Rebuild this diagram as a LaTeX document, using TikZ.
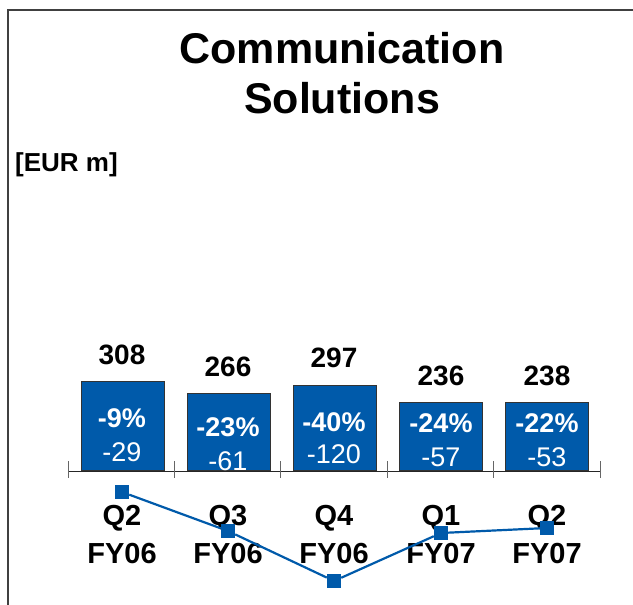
\documentclass[tikz,border=0pt]{standalone}
\usepackage{fontspec}
\setmainfont{Liberation Sans}
\definecolor{barblue}{RGB}{0,90,170}
\newcommand{\titlefont}[0]{\fontsize{43}{50}\selectfont\bfseries}
\newcommand{\bigfont}[0]{\fontsize{28}{33}\selectfont\bfseries}
\newcommand{\inbarfont}[0]{\fontsize{27}{32}\selectfont}
\newcommand{\catfont}[0]{\fontsize{29}{38}\selectfont\bfseries}
\tikzset{
bar/.style={
  draw=black!80,
  fill=barblue,
  line width=0.8pt,
  minimum width=83pt,
  inner sep=0pt,
  anchor=south
  }
}
\tikzset{
pct/.style={
  text=white,
  font=\inbarfont\bfseries,
  inner sep=0pt
  }
}
\tikzset{
delta/.style={
  text=white,
  font=\inbarfont,
  inner sep=0pt
  }
}
\tikzset{
cat/.style={
  align=center,
  font=\catfont,
  inner sep=0pt
  }
}
\tikzset{
marker/.style={
  fill=barblue,
  minimum size=14pt,
  inner sep=0pt
  }
}
\tikzstyle{trend} = [draw=barblue,line width=2.2pt]
\tikzstyle{tick} = [draw=black!60,line width=0.9pt]
\tikzset{%
    boundingBox/.style={use as bounding box},
    }
\begin{document}
\begin{tikzpicture}[x=1pt, y=-1pt]
        \path[boundingBox] (0,0) rectangle (633,605);
        %frame
        \draw[black!75, line width=1.6pt] (8,605) -- (8,10) -- (633,10);

        %title
        \node (title) at (342,73) [align=center, font=\titlefont, inner sep=0pt] {Communication\\Solutions};
        \node (unit) at (15,165) [anchor=west, font=\fontsize{26}{31}\selectfont\bfseries, inner sep=0pt] {[EUR m]};

        %bars
        \node (b1) at (122.5,471) [bar, minimum height=89pt] {};
        \node (b2) at (228.5,471) [bar, minimum height=77pt] {};
        \node (b3) at (334.5,471) [bar, minimum height=85pt] {};
        \node (b4) at (441,471) [bar, minimum height=68pt] {};
        \node (b5) at (547,471) [bar, minimum height=68pt] {};

        %axis
        \draw[black!85, line width=0.9pt] (68,471) -- (600,471);
        \draw[tick] (68,461) -- (68,478);
        \draw[tick] (174.4,461) -- (174.4,478);
        \draw[tick] (280.8,461) -- (280.8,478);
        \draw[tick] (387.2,461) -- (387.2,478);
        \draw[tick] (493.6,461) -- (493.6,478);
        \draw[tick] (600,461) -- (600,478);

        %values
        \node (v1) at (122,355) [font=\bigfont, inner sep=0pt] {308};
        \node (v2) at (228,367) [font=\bigfont, inner sep=0pt] {266};
        \node (v3) at (334,358) [font=\bigfont, inner sep=0pt] {297};
        \node (v4) at (441,376) [font=\bigfont, inner sep=0pt] {236};
        \node (v5) at (547,376) [font=\bigfont, inner sep=0pt] {238};

        \node (p1) at (122,418) [pct] {-9\%};
        \node (p2) at (228,427) [pct] {-23\%};
        \node (p3) at (334,422) [pct] {-40\%};
        \node (p4) at (441,423) [pct] {-24\%};
        \node (p5) at (547,423) [pct] {-22\%};

        \node (d1) at (122,452) [delta] {-29};
        \node (d2) at (228,461) [delta] {-61};
        \node (d3) at (334,454) [delta] {-120};
        \node (d4) at (441,457) [delta] {-57};
        \node (d5) at (547,457) [delta] {-53};

        %categories
        \node (c1) at (122,535) [cat] {Q2\\FY06};
        \node (c2) at (228,535) [cat] {Q3\\FY06};
        \node (c3) at (334,535) [cat] {Q4\\FY06};
        \node (c4) at (441,535) [cat] {Q1\\FY07};
        \node (c5) at (547,535) [cat] {Q2\\FY07};

        %trend
        \node (m1) at (122,492) [marker] {};
        \node (m2) at (228,531) [marker] {};
        \node (m3) at (334,581) [marker] {};
        \node (m4) at (441,533) [marker] {};
        \node (m5) at (547,528) [marker] {};
        \draw[trend] (m1) -- (m2);
        \draw[trend] (m2) -- (m3);
        \draw[trend] (m3) -- (m4);
        \draw[trend] (m4) -- (m5);
\end{tikzpicture}
\end{document}
